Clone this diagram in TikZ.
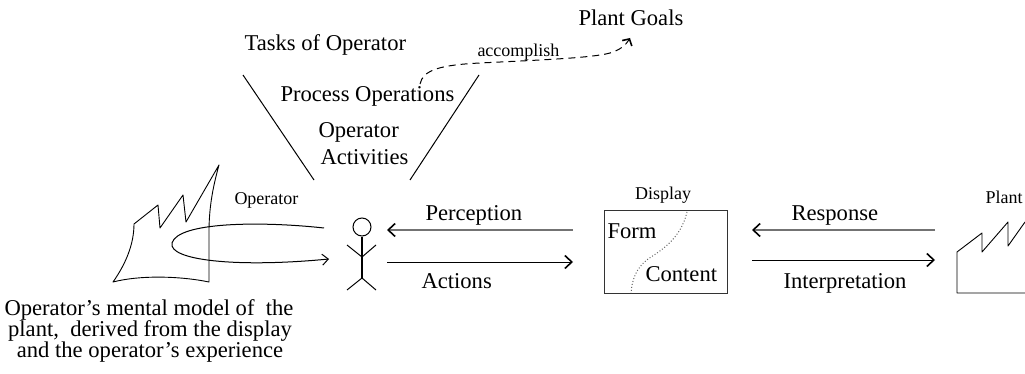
\documentclass[tikz,border=0pt]{standalone}
\usepackage{fontspec}
\setmainfont{Liberation Serif}
\usetikzlibrary{arrows.meta}
\begin{document}
\begin{tikzpicture}[x=1pt,y=-1pt,line width=1pt,
  big/.style={inner sep=0pt,anchor=base west,font=\fontsize{22.6}{24}\selectfont},
  small/.style={inner sep=0pt,anchor=base west,font=\fontsize{18}{20}\selectfont},
  flow/.style={-{Straight Barb[length=7pt,width=13pt,line width=1.6pt]}},
  greyflow/.style={draw=black!55,line width=1.4pt,-{Straight Barb[length=7pt,width=13pt,line width=1.6pt,color=black]}},
  sketch/.style={line width=0.9pt,line join=round}]
\useasboundingbox (0,0) rectangle (1025,374);

% hierarchy of tasks
\node[big] (tasks) at (244,51) {Tasks of Operator};
\node[big] (procops) at (280,102) {Process Operations};
\node[big] (opact1) at (318,138) {Operator};
\node[big] (opact2) at (320,165) {Activities};
\node[big] (goals) at (578,26) {Plant Goals};
\node[small] (accomp) at (477,57) {accomplish};
\coordinate (funL1) at (243,75);  \coordinate (funL2) at (314,180);
\coordinate (funR1) at (479,75);  \coordinate (funR2) at (410,180);
\draw (funL1) -- (funL2);
\draw (funR1) -- (funR2);
\coordinate (accS) at (420,84);
\coordinate (accE) at (630,38);
\draw[dashed,dash pattern=on 7pt off 5pt,-{Straight Barb[length=5pt,width=11pt,line width=1.6pt]}]
  (accS) .. controls (423,70) and (440,65) .. (480,63)
  .. controls (540,60) and (592,58) .. (610,53)
  .. controls (620,50) and (626,45) .. (accE);

% operator stick figure
\node[small] (oplabel) at (234,205) {Operator};
\node[circle,draw,minimum size=18pt,inner sep=0pt] (head) at (362,227) {};
\coordinate (hip) at (362,278);
\draw[line width=1.6pt] (head.south) -- (hip);
\draw (347,245) -- (362,257) -- (376,245);
\draw (347,290) -- (hip) -- (376,290);

% operator's mental model
\draw[sketch] (113,282) .. controls (125,265) and (134,245) .. (134,224)
  -- (158,205) -- (160,228) -- (183,195) -- (186,222) -- (219,165)
  .. controls (212,190) and (209,210) .. (209,232) -- (209,282)
  .. controls (180,276) and (140,275) .. (113,282) -- cycle;
\coordinate (loopS) at (324,228);
\coordinate (loopE) at (329,259);
\draw[-{Straight Barb[length=6pt,width=11pt]}] (loopS) .. controls (260,221) and (178,222) .. (172,243)
  .. controls (168,260) and (235,268) .. (loopE);
\node[big,anchor=base] (mm1) at (149,315) {Operator’s mental model of\hspace{0.25em} the};
\node[big,anchor=base] (mm2) at (150,336) {plant,\hspace{0.25em} derived from the display};
\node[big,anchor=base] (mm3) at (150,357) {and the operator’s experience};

% operator <-> display
\coordinate (percS) at (573,230); \coordinate (percE) at (387,230);
\coordinate (actS) at (387,262);  \coordinate (actE) at (573,262);
\draw[greyflow] (percS) -- (percE);
\draw[flow] (actS) -- (actE);
\node[big] (perc) at (425,220) {Perception};
\node[big] (act) at (421,288) {Actions};

% display
\node[small,anchor=base] (displabel) at (663,200) {Display};
\node[draw=black!80,minimum width=123pt,minimum height=82pt,inner sep=0pt] (display) at (665.5,252) {};
\draw[dotted,black!60,line width=1pt] (687,212) .. controls (681,238) and (662,250) .. (648,259)
  .. controls (636,268) and (632,280) .. (631,293);
\node[big] (form) at (607,238) {Form};
\node[big] (content) at (645,281) {Content};

% display <-> plant
\coordinate (respS) at (935,230); \coordinate (respE) at (752,230);
\coordinate (intS) at (752,260);  \coordinate (intE) at (935,260);
\draw[greyflow] (respS) -- (respE);
\draw[flow] (intS) -- (intE);
\node[big] (resp) at (791,220) {Response};
\node[big] (interp) at (783,288) {Interpretation};

% plant
\node[small] (plantlabel) at (985,204) {Plant};
\draw[sketch] (1025,293) -- (957,293) -- (957,252) -- (982,233) -- (982,252)
  -- (1008,222) -- (1008,246) -- (1025,222);
\end{tikzpicture}
\end{document}
